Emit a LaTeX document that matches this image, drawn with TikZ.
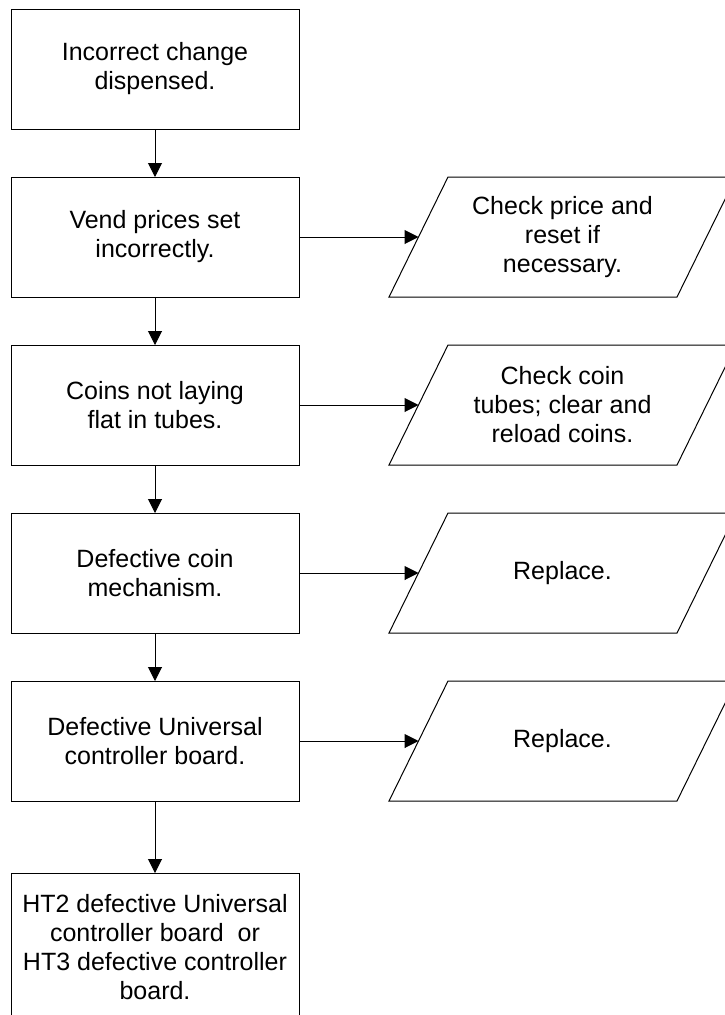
\documentclass[tikz,border=0pt]{standalone}
\usepackage{fontspec}
\setmainfont{Liberation Sans}
\usetikzlibrary{arrows.meta}
\tikzset{
  stepbox/.style={draw=black, line width=1pt, minimum width=288pt, minimum height=120pt,
    inner sep=0pt, outer sep=0pt, align=center, font=\fontsize{25pt}{29pt}\selectfont},
  iobox/.style={minimum width=288pt, minimum height=120pt, inner sep=0pt, outer sep=0pt,
    align=center, font=\fontsize{25pt}{29pt}\selectfont},
  ioframe/.style={draw=black, line width=1pt, line join=miter},
  flow/.style={line width=1pt, -{Triangle[length=14pt,width=14pt]}}
}
\begin{document}
\begin{tikzpicture}[x=1pt,y=-1pt]
\useasboundingbox (0,0) rectangle (725,1015);
\clip (0,0) rectangle (725,1015);
\node[stepbox] (b1) at (155,69) {Incorrect change\\dispensed.};
\node[stepbox] (b2) at (155,237) {Vend prices set\\incorrectly.};
\node[stepbox] (b3) at (155,405) {Coins not laying\\flat in tubes.};
\node[stepbox] (b4) at (155,573) {Defective coin\\mechanism.};
\node[stepbox] (b5) at (155,741) {Defective Universal\\controller board.};
\node[stepbox, minimum height=148pt] (b6) at (155,947) {HT2 defective Universal\\controller board\ \ or\\HT3 defective controller\\board.};
\node[iobox] (p2) at (562.5,237) {Check price and\\reset if\\necessary.};
\node[iobox] (p3) at (562.5,405) {Check coin\\tubes; clear and\\reload coins.};
\node[iobox] (p4) at (562.5,573) {Replace.};
\node[iobox] (p5) at (562.5,741) {Replace.};
\foreach \p in {p2,p3,p4,p5}{
  \draw[ioframe] (\p.center) ++(-173.5,60) -- ++(288,0) -- ++(59,-120) -- ++(-288,0) -- cycle;
}
\draw[flow] (b1) -- (b2);
\draw[flow] (b2) -- (b3);
\draw[flow] (b3) -- (b4);
\draw[flow] (b4) -- (b5);
\draw[flow] (b5) -- (b6);
\draw[flow] (b2) -- (p2);
\draw[flow] (b3) -- (p3);
\draw[flow] (b4) -- (p4);
\draw[flow] (b5) -- (p5);
\end{tikzpicture}
\end{document}
